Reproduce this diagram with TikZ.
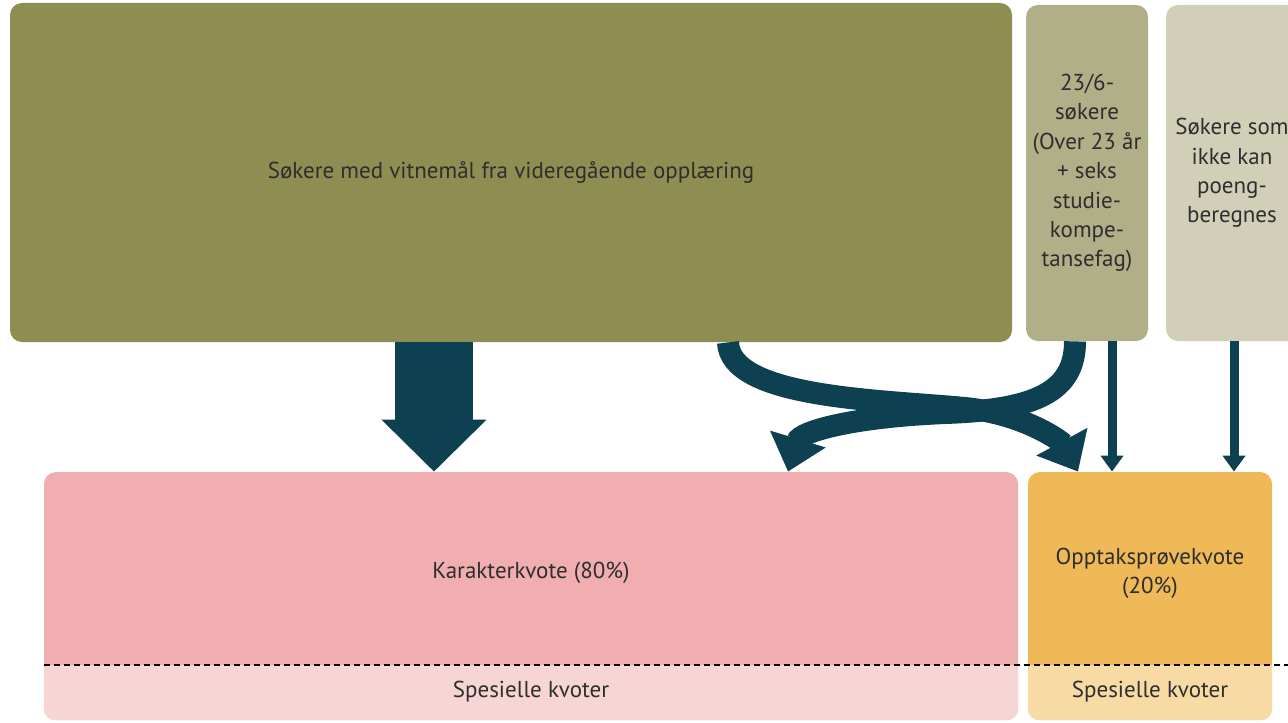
\documentclass[tikz,border=0pt]{standalone}
\usepackage{fontspec}
\setmainfont{PT Sans}
\usetikzlibrary{arrows.meta}
\definecolor{vitolive}{HTML}{8E8D52}
\definecolor{olivemid}{HTML}{B1AF87}
\definecolor{olivelight}{HTML}{D1CFB7}
\definecolor{karpink}{HTML}{F0AEB1}
\definecolor{karlight}{HTML}{F7D5D5}
\definecolor{opporange}{HTML}{EEB956}
\definecolor{opplight}{HTML}{F8DAA5}
\definecolor{flowteal}{HTML}{0D4050}
\definecolor{textgray}{HTML}{2E2E2E}
\begin{document}
\begin{tikzpicture}[x=0.5pt,y=-0.5pt,
	box/.style ={rounded corners=6pt, align=center, text=textgray, inner sep=0pt,
		font=\fontsize{11.5}{14.7}\selectfont},
	label/.style ={align=center, text=textgray, font=\fontsize{11.5}{14.5}\selectfont},
	flow/.style ={draw=flowteal, line width=11pt, -{Triangle[width=28pt,length=17pt]}},
	thinflow/.style ={draw=flowteal, line width=4.5pt, -{Triangle[width=11pt,length=8pt]}},
	bigflow/.style ={draw=flowteal, line width=39pt, -{Triangle[width=51pt,length=26pt]}}]
		\fill[white] (0,0) rectangle (1288,722);
		\clip (0,0) rectangle (1288,722);
		\node[box, fill=vitolive, minimum width=501pt, minimum height=169.5pt] (vit) at (511,172.5)
			{Søkere med vitnemål fra videregående opplæring};
		\node[box, fill=olivemid, minimum width=61pt, minimum height=168pt] (over23) at (1087,173)
			{23/6-\\søkere\\(Over 23 år\\+ seks\\studie-\\kompe-\\tansefag)};
		\node[box, fill=olivelight, minimum width=66pt, minimum height=168pt] (ikkepoeng) at (1232,173)
			{Søkere som\\ikke kan\\poeng-\\beregnes};
		\node[box, fill=karpink, minimum width=487pt, minimum height=124pt] (kar) at (531,596) {};
		\node[box, fill=opporange, minimum width=122pt, minimum height=124pt] (opp) at (1150,596) {};
		\coordinate (dash) at (0,665);
		\begin{scope}
			\clip[rounded corners=6pt] (kar.south west) rectangle (kar.north east);
			\fill[karlight] (kar.south west) rectangle (kar.east |- dash);
		\end{scope}
		\begin{scope}
			\clip[rounded corners=6pt] (opp.south west) rectangle (opp.north east);
			\fill[opplight] (opp.south west) rectangle (opp.east |- dash);
		\end{scope}
		\draw[black, line width=0.6pt, dash pattern=on 3pt off 2pt] (kar.west |- dash) -- (1288,665);
		\node[label] (karlabel) at (531,573) {Karakterkvote (80\%)};
		\node[label] (opplabel) at (1150,573) {Opptaksprøvekvote\\(20\%)};
		\node[label] (karsp) at (531,692) {Spesielle kvoter};
		\node[label] (oppsp) at (1150,692) {Spesielle kvoter};
		\coordinate (bigx) at (434,0);
		\coordinate (thinb) at (1112,0);
		\coordinate (thinc) at (1234,0);
		\draw[bigflow] (vit.south -| bigx) -- (kar.north -| bigx);
		\draw[thinflow] (over23.south -| thinb) -- (opp.north -| thinb);
		\draw[thinflow] (ikkepoeng.south -| thinc) -- (opp.north -| thinc);
		\draw[flow] (vit.south -| 728,0) .. controls (730,398) and (880,400) .. (965,408)
			.. controls (1025,414) and (1062,442) .. (opp.north -| 1078,0);
		\draw[flow] (over23.south -| 1075,0) .. controls (1075,392) and (1035,410) .. (945,413)
			.. controls (850,417) and (800,432) .. (kar.north -| 788,0);
\end{tikzpicture}
\end{document}
